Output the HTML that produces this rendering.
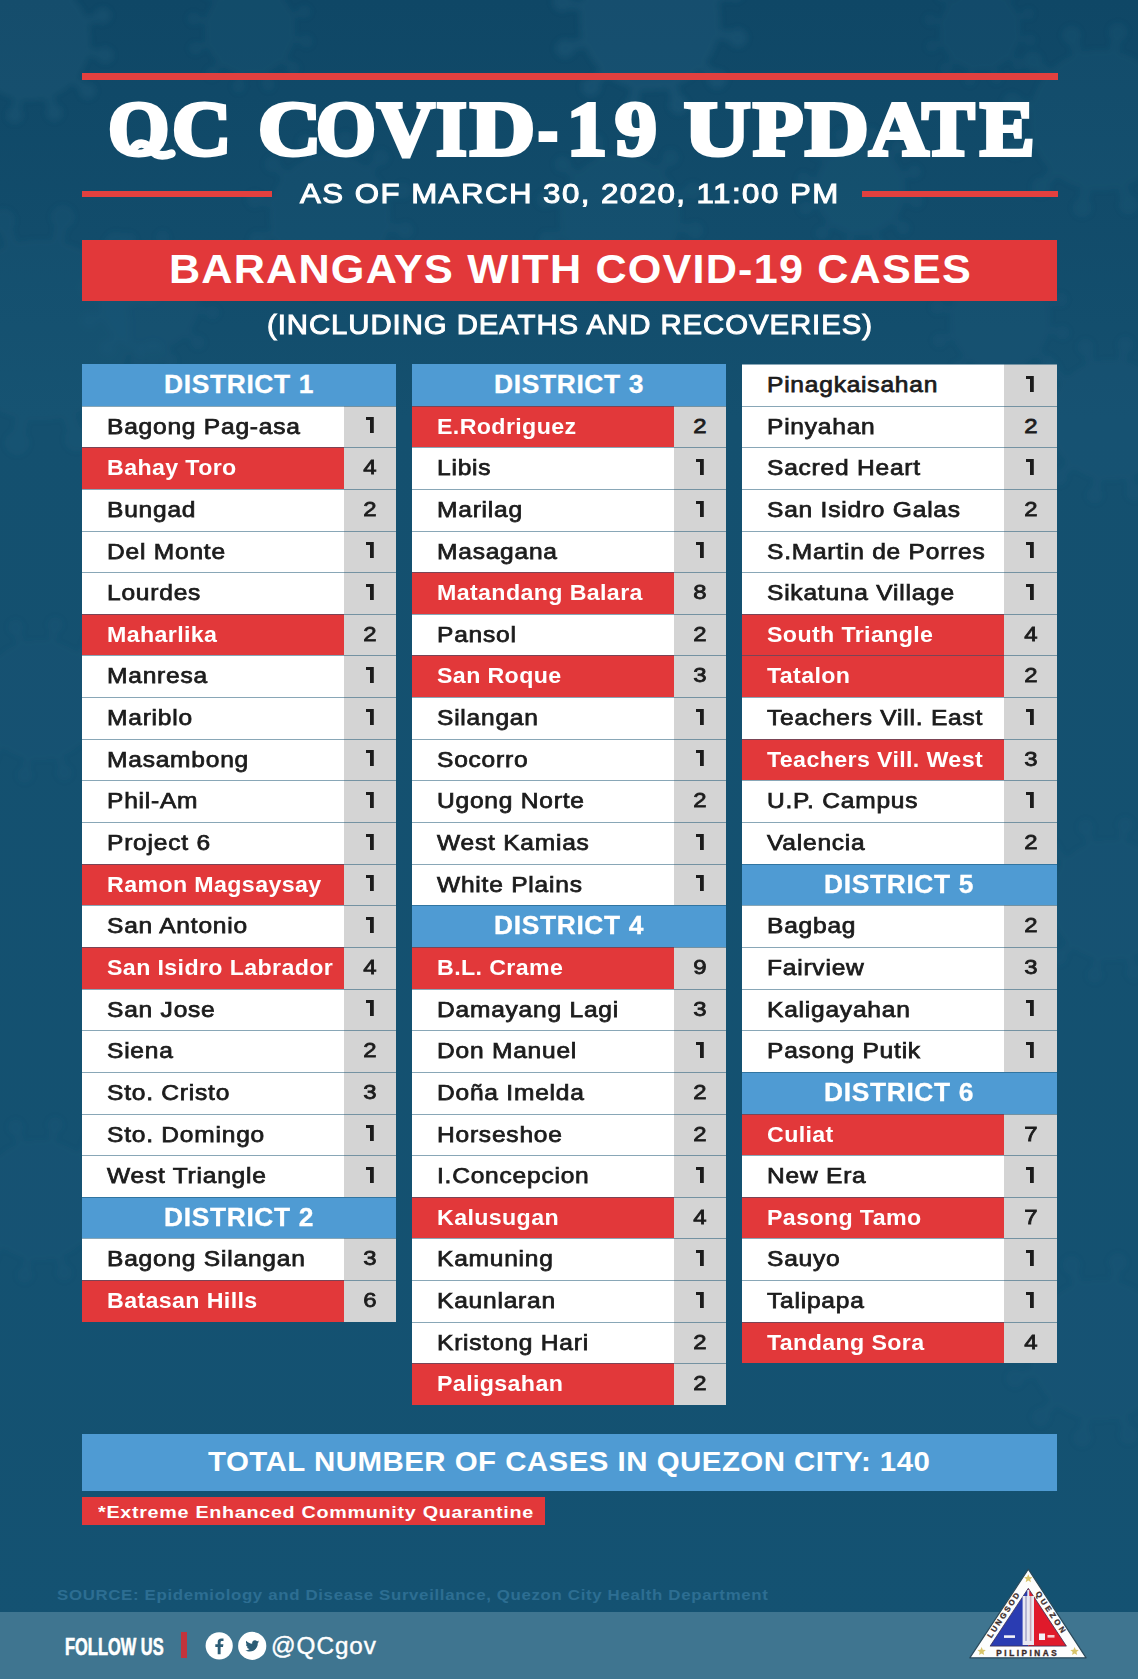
<!DOCTYPE html>
<html><head><meta charset="utf-8"><title>QC COVID-19 Update</title>
<style>
*{box-sizing:border-box;margin:0;padding:0}
html,body{width:1138px;height:1679px;overflow:hidden}
body{background:#14506f;font-family:"Liberation Sans",sans-serif;position:relative;color:#fff}
.abs{position:absolute}
.bgtex{position:absolute;left:0;top:0;width:1138px;height:1679px}
.rl{position:absolute;background:#e2403f;height:7px}
.tl b{position:absolute;top:84px;font-family:"Liberation Serif",serif;font-weight:700;font-size:78px;line-height:90px;white-space:nowrap;color:#fff;transform-origin:0 50%;-webkit-text-stroke:4px #fff;paint-order:stroke fill}
.asof{position:absolute;left:299.5px;top:177.5px;font-size:27.8px;line-height:32px;white-space:nowrap;transform-origin:0 50%;transform:scaleX(1.1235);letter-spacing:1.3px;-webkit-text-stroke:1px #fff}
.banner{position:absolute;left:82px;top:239.7px;width:975px;height:61px;background:#e2383a}
.btxt{position:absolute;left:169.4px;top:244px;font-size:40.5px;line-height:50px;font-weight:700;white-space:nowrap;transform-origin:0 50%;transform:scaleX(1.0667);letter-spacing:1.1px}
.incl{position:absolute;left:266.7px;top:307.5px;font-size:28.2px;line-height:32px;white-space:nowrap;transform-origin:0 50%;transform:scaleX(1.041);letter-spacing:0.9px;-webkit-text-stroke:1px #fff}
.col{position:absolute;top:0}
.row{position:absolute;left:0;height:41.64px;width:100%}
.row .in{position:absolute;left:0;top:0;right:0;bottom:0;background:#fff}
.row i,.hd i{position:absolute;left:0;right:0;top:0;height:1px;background:rgba(20,80,111,0.5)}
.row.r .in{background:#e2383a}
.row .v{position:absolute;top:0;bottom:0;right:0;background:#d4d4d4;color:#1c1c1c;text-align:center;font-size:21px;line-height:39.6px}
.row .v span{display:inline-block;transform:scaleX(1.14);-webkit-text-stroke:0.8px #1c1c1c}
.row .v svg{position:absolute;left:50%;top:50%;margin:-9.2px 0 0 -4.3px}
.row .n{position:absolute;left:25px;top:0;font-size:22px;line-height:42px;color:#1c1c1c;white-space:nowrap;transform-origin:0 50%;transform:scaleX(1.115);letter-spacing:0.7px;-webkit-text-stroke:0.75px #1c1c1c}
.row.r .n{color:#fff;font-weight:700;transform:scaleX(1.055);letter-spacing:0.35px;-webkit-text-stroke:0}
.hd{position:absolute;left:0;height:41.64px;width:100%;background:#4f9bd3;text-align:center}
.hd span{display:inline-block;font-size:25px;font-weight:700;line-height:40px;white-space:nowrap;transform:scaleX(1.055);letter-spacing:0.6px;-webkit-text-stroke:0.3px #fff}
.total{position:absolute;left:82px;top:1433.5px;width:975px;height:57.5px;background:#4f9bd3}
.ttxt{position:absolute;left:208px;top:1445.3px;font-size:28px;line-height:34px;font-weight:700;white-space:nowrap;transform-origin:0 50%;transform:scaleX(1.0517);letter-spacing:0.45px}
.note{position:absolute;left:81.5px;top:1497px;width:463.5px;height:28px;background:#e2383a}
.ntxt{position:absolute;left:98px;top:1500.3px;font-size:17.4px;line-height:24px;font-weight:700;white-space:nowrap;transform-origin:0 50%;transform:scaleX(1.135);letter-spacing:0.62px}
.src{position:absolute;left:57px;top:1585px;font-size:15.5px;line-height:20px;color:#2d6e92;white-space:nowrap;transform-origin:0 50%;transform:scaleX(1.087);letter-spacing:0.6px;font-weight:700}
.foot{position:absolute;left:0;top:1612px;width:1138px;height:67px;background:#3f7590}
.fol{position:absolute;left:64.5px;top:1633.5px;font-size:23px;line-height:26px;font-weight:700;white-space:nowrap;transform-origin:0 50%;transform:scaleX(0.715);-webkit-text-stroke:0.6px #fff}
.fbar{position:absolute;left:181px;top:1632px;width:5.5px;height:26px;background:#c2343c}
.qc{position:absolute;left:271.2px;top:1633px;font-size:23px;line-height:26px;white-space:nowrap;transform-origin:0 50%;transform:scaleX(1.055);letter-spacing:0.9px;-webkit-text-stroke:0.4px #fff}
</style></head>
<body>
<svg class="bgtex" width="1138" height="1679" viewBox="0 0 1138 1679"><defs><filter id="bl"><feGaussianBlur stdDeviation="3"/></filter><linearGradient id="gv" x1="0" y1="0" x2="0" y2="1"><stop offset="0" stop-color="#0f4766"/><stop offset="0.25" stop-color="#14506f"/><stop offset="1" stop-color="#145272"/></linearGradient></defs><rect width="1138" height="1679" fill="url(#gv)"/><g filter="url(#bl)"><g opacity="0.1" fill="#4c87a6" stroke="#4c87a6"><circle cx="30" cy="40" r="60"/><line x1="88.8" y1="51.9" x2="105.3" y2="55.3" stroke-width="8.4"/><circle cx="105.3" cy="55.3" r="7.8"/><line x1="75.0" y1="79.7" x2="87.6" y2="90.8" stroke-width="8.4"/><circle cx="87.6" cy="90.8" r="7.8"/><line x1="49.1" y1="96.9" x2="54.4" y2="112.8" stroke-width="8.4"/><circle cx="54.4" cy="112.8" r="7.8"/><line x1="18.1" y1="98.8" x2="14.7" y2="115.3" stroke-width="8.4"/><circle cx="14.7" cy="115.3" r="7.8"/><line x1="-9.7" y1="85.0" x2="-20.8" y2="97.6" stroke-width="8.4"/><circle cx="-20.8" cy="97.6" r="7.8"/><line x1="-26.9" y1="59.1" x2="-42.8" y2="64.4" stroke-width="8.4"/><circle cx="-42.8" cy="64.4" r="7.8"/><line x1="-28.8" y1="28.1" x2="-45.3" y2="24.7" stroke-width="8.4"/><circle cx="-45.3" cy="24.7" r="7.8"/><line x1="-15.0" y1="0.3" x2="-27.6" y2="-10.8" stroke-width="8.4"/><circle cx="-27.6" cy="-10.8" r="7.8"/><line x1="10.9" y1="-16.9" x2="5.6" y2="-32.8" stroke-width="8.4"/><circle cx="5.6" cy="-32.8" r="7.8"/><line x1="41.9" y1="-18.8" x2="45.3" y2="-35.3" stroke-width="8.4"/><circle cx="45.3" cy="-35.3" r="7.8"/><line x1="69.7" y1="-5.0" x2="80.8" y2="-17.6" stroke-width="8.4"/><circle cx="80.8" cy="-17.6" r="7.8"/><line x1="86.9" y1="20.9" x2="102.8" y2="15.6" stroke-width="8.4"/><circle cx="102.8" cy="15.6" r="7.8"/></g><g opacity="0.13" fill="#4c87a6" stroke="#4c87a6"><circle cx="650" cy="20" r="70"/><line x1="718.6" y1="33.9" x2="737.8" y2="37.8" stroke-width="9.8"/><circle cx="737.8" cy="37.8" r="9.1"/><line x1="702.5" y1="66.3" x2="717.1" y2="79.3" stroke-width="9.8"/><circle cx="717.1" cy="79.3" r="9.1"/><line x1="672.3" y1="86.4" x2="678.5" y2="104.9" stroke-width="9.8"/><circle cx="678.5" cy="104.9" r="9.1"/><line x1="636.1" y1="88.6" x2="632.2" y2="107.8" stroke-width="9.8"/><circle cx="632.2" cy="107.8" r="9.1"/><line x1="603.7" y1="72.5" x2="590.7" y2="87.1" stroke-width="9.8"/><circle cx="590.7" cy="87.1" r="9.1"/><line x1="583.6" y1="42.3" x2="565.1" y2="48.5" stroke-width="9.8"/><circle cx="565.1" cy="48.5" r="9.1"/><line x1="581.4" y1="6.1" x2="562.2" y2="2.2" stroke-width="9.8"/><circle cx="562.2" cy="2.2" r="9.1"/><line x1="597.5" y1="-26.3" x2="582.9" y2="-39.3" stroke-width="9.8"/><circle cx="582.9" cy="-39.3" r="9.1"/><line x1="627.7" y1="-46.4" x2="621.5" y2="-64.9" stroke-width="9.8"/><circle cx="621.5" cy="-64.9" r="9.1"/><line x1="663.9" y1="-48.6" x2="667.8" y2="-67.8" stroke-width="9.8"/><circle cx="667.8" cy="-67.8" r="9.1"/><line x1="696.3" y1="-32.5" x2="709.3" y2="-47.1" stroke-width="9.8"/><circle cx="709.3" cy="-47.1" r="9.1"/><line x1="716.4" y1="-2.3" x2="734.9" y2="-8.5" stroke-width="9.8"/><circle cx="734.9" cy="-8.5" r="9.1"/></g><g opacity="0.07" fill="#4c87a6" stroke="#4c87a6"><circle cx="250" cy="30" r="45"/><line x1="294.1" y1="38.9" x2="306.5" y2="41.4" stroke-width="6.3"/><circle cx="306.5" cy="41.4" r="5.9"/><line x1="283.7" y1="59.8" x2="293.2" y2="68.1" stroke-width="6.3"/><circle cx="293.2" cy="68.1" r="5.9"/><line x1="264.3" y1="72.7" x2="268.3" y2="84.6" stroke-width="6.3"/><circle cx="268.3" cy="84.6" r="5.9"/><line x1="241.1" y1="74.1" x2="238.6" y2="86.5" stroke-width="6.3"/><circle cx="238.6" cy="86.5" r="5.9"/><line x1="220.2" y1="63.7" x2="211.9" y2="73.2" stroke-width="6.3"/><circle cx="211.9" cy="73.2" r="5.9"/><line x1="207.3" y1="44.3" x2="195.4" y2="48.3" stroke-width="6.3"/><circle cx="195.4" cy="48.3" r="5.9"/><line x1="205.9" y1="21.1" x2="193.5" y2="18.6" stroke-width="6.3"/><circle cx="193.5" cy="18.6" r="5.9"/><line x1="216.3" y1="0.2" x2="206.8" y2="-8.1" stroke-width="6.3"/><circle cx="206.8" cy="-8.1" r="5.9"/><line x1="235.7" y1="-12.7" x2="231.7" y2="-24.6" stroke-width="6.3"/><circle cx="231.7" cy="-24.6" r="5.9"/><line x1="258.9" y1="-14.1" x2="261.4" y2="-26.5" stroke-width="6.3"/><circle cx="261.4" cy="-26.5" r="5.9"/><line x1="279.8" y1="-3.7" x2="288.1" y2="-13.2" stroke-width="6.3"/><circle cx="288.1" cy="-13.2" r="5.9"/><line x1="292.7" y1="15.7" x2="304.6" y2="11.7" stroke-width="6.3"/><circle cx="304.6" cy="11.7" r="5.9"/></g><g opacity="0.07" fill="#4c87a6" stroke="#4c87a6"><circle cx="1100" cy="120" r="70"/><line x1="1168.6" y1="133.9" x2="1187.8" y2="137.8" stroke-width="9.8"/><circle cx="1187.8" cy="137.8" r="9.1"/><line x1="1152.5" y1="166.3" x2="1167.1" y2="179.3" stroke-width="9.8"/><circle cx="1167.1" cy="179.3" r="9.1"/><line x1="1122.3" y1="186.4" x2="1128.5" y2="204.9" stroke-width="9.8"/><circle cx="1128.5" cy="204.9" r="9.1"/><line x1="1086.1" y1="188.6" x2="1082.2" y2="207.8" stroke-width="9.8"/><circle cx="1082.2" cy="207.8" r="9.1"/><line x1="1053.7" y1="172.5" x2="1040.7" y2="187.1" stroke-width="9.8"/><circle cx="1040.7" cy="187.1" r="9.1"/><line x1="1033.6" y1="142.3" x2="1015.1" y2="148.5" stroke-width="9.8"/><circle cx="1015.1" cy="148.5" r="9.1"/><line x1="1031.4" y1="106.1" x2="1012.2" y2="102.2" stroke-width="9.8"/><circle cx="1012.2" cy="102.2" r="9.1"/><line x1="1047.5" y1="73.7" x2="1032.9" y2="60.7" stroke-width="9.8"/><circle cx="1032.9" cy="60.7" r="9.1"/><line x1="1077.7" y1="53.6" x2="1071.5" y2="35.1" stroke-width="9.8"/><circle cx="1071.5" cy="35.1" r="9.1"/><line x1="1113.9" y1="51.4" x2="1117.8" y2="32.2" stroke-width="9.8"/><circle cx="1117.8" cy="32.2" r="9.1"/><line x1="1146.3" y1="67.5" x2="1159.3" y2="52.9" stroke-width="9.8"/><circle cx="1159.3" cy="52.9" r="9.1"/><line x1="1166.4" y1="97.7" x2="1184.9" y2="91.5" stroke-width="9.8"/><circle cx="1184.9" cy="91.5" r="9.1"/></g><g opacity="0.06" fill="#4c87a6" stroke="#4c87a6"><circle cx="980" cy="30" r="40"/><line x1="1019.2" y1="37.9" x2="1030.2" y2="40.2" stroke-width="5.6"/><circle cx="1030.2" cy="40.2" r="5.2"/><line x1="1010.0" y1="56.5" x2="1018.4" y2="63.9" stroke-width="5.6"/><circle cx="1018.4" cy="63.9" r="5.2"/><line x1="992.7" y1="67.9" x2="996.3" y2="78.5" stroke-width="5.6"/><circle cx="996.3" cy="78.5" r="5.2"/><line x1="972.1" y1="69.2" x2="969.8" y2="80.2" stroke-width="5.6"/><circle cx="969.8" cy="80.2" r="5.2"/><line x1="953.5" y1="60.0" x2="946.1" y2="68.4" stroke-width="5.6"/><circle cx="946.1" cy="68.4" r="5.2"/><line x1="942.1" y1="42.7" x2="931.5" y2="46.3" stroke-width="5.6"/><circle cx="931.5" cy="46.3" r="5.2"/><line x1="940.8" y1="22.1" x2="929.8" y2="19.8" stroke-width="5.6"/><circle cx="929.8" cy="19.8" r="5.2"/><line x1="950.0" y1="3.5" x2="941.6" y2="-3.9" stroke-width="5.6"/><circle cx="941.6" cy="-3.9" r="5.2"/><line x1="967.3" y1="-7.9" x2="963.7" y2="-18.5" stroke-width="5.6"/><circle cx="963.7" cy="-18.5" r="5.2"/><line x1="987.9" y1="-9.2" x2="990.2" y2="-20.2" stroke-width="5.6"/><circle cx="990.2" cy="-20.2" r="5.2"/><line x1="1006.5" y1="0.0" x2="1013.9" y2="-8.4" stroke-width="5.6"/><circle cx="1013.9" cy="-8.4" r="5.2"/><line x1="1017.9" y1="17.3" x2="1028.5" y2="13.7" stroke-width="5.6"/><circle cx="1028.5" cy="13.7" r="5.2"/></g><g opacity="0.06" fill="#4c87a6" stroke="#4c87a6"><circle cx="40" cy="330" r="90"/><line x1="128.2" y1="347.9" x2="152.9" y2="352.9" stroke-width="12.6"/><circle cx="152.9" cy="352.9" r="11.7"/><line x1="107.4" y1="389.6" x2="126.3" y2="406.3" stroke-width="12.6"/><circle cx="126.3" cy="406.3" r="11.7"/><line x1="68.6" y1="415.3" x2="76.6" y2="439.2" stroke-width="12.6"/><circle cx="76.6" cy="439.2" r="11.7"/><line x1="22.1" y1="418.2" x2="17.1" y2="442.9" stroke-width="12.6"/><circle cx="17.1" cy="442.9" r="11.7"/><line x1="-19.6" y1="397.4" x2="-36.3" y2="416.3" stroke-width="12.6"/><circle cx="-36.3" cy="416.3" r="11.7"/><line x1="-45.3" y1="358.6" x2="-69.2" y2="366.6" stroke-width="12.6"/><circle cx="-69.2" cy="366.6" r="11.7"/><line x1="-48.2" y1="312.1" x2="-72.9" y2="307.1" stroke-width="12.6"/><circle cx="-72.9" cy="307.1" r="11.7"/><line x1="-27.4" y1="270.4" x2="-46.3" y2="253.7" stroke-width="12.6"/><circle cx="-46.3" cy="253.7" r="11.7"/><line x1="11.4" y1="244.7" x2="3.4" y2="220.8" stroke-width="12.6"/><circle cx="3.4" cy="220.8" r="11.7"/><line x1="57.9" y1="241.8" x2="62.9" y2="217.1" stroke-width="12.6"/><circle cx="62.9" cy="217.1" r="11.7"/><line x1="99.6" y1="262.6" x2="116.3" y2="243.7" stroke-width="12.6"/><circle cx="116.3" cy="243.7" r="11.7"/><line x1="125.3" y1="301.4" x2="149.2" y2="293.4" stroke-width="12.6"/><circle cx="149.2" cy="293.4" r="11.7"/></g><g opacity="0.05" fill="#4c87a6" stroke="#4c87a6"><circle cx="1110" cy="420" r="60"/><line x1="1168.8" y1="431.9" x2="1185.3" y2="435.3" stroke-width="8.4"/><circle cx="1185.3" cy="435.3" r="7.8"/><line x1="1155.0" y1="459.7" x2="1167.6" y2="470.8" stroke-width="8.4"/><circle cx="1167.6" cy="470.8" r="7.8"/><line x1="1129.1" y1="476.9" x2="1134.4" y2="492.8" stroke-width="8.4"/><circle cx="1134.4" cy="492.8" r="7.8"/><line x1="1098.1" y1="478.8" x2="1094.7" y2="495.3" stroke-width="8.4"/><circle cx="1094.7" cy="495.3" r="7.8"/><line x1="1070.3" y1="465.0" x2="1059.2" y2="477.6" stroke-width="8.4"/><circle cx="1059.2" cy="477.6" r="7.8"/><line x1="1053.1" y1="439.1" x2="1037.2" y2="444.4" stroke-width="8.4"/><circle cx="1037.2" cy="444.4" r="7.8"/><line x1="1051.2" y1="408.1" x2="1034.7" y2="404.7" stroke-width="8.4"/><circle cx="1034.7" cy="404.7" r="7.8"/><line x1="1065.0" y1="380.3" x2="1052.4" y2="369.2" stroke-width="8.4"/><circle cx="1052.4" cy="369.2" r="7.8"/><line x1="1090.9" y1="363.1" x2="1085.6" y2="347.2" stroke-width="8.4"/><circle cx="1085.6" cy="347.2" r="7.8"/><line x1="1121.9" y1="361.2" x2="1125.3" y2="344.7" stroke-width="8.4"/><circle cx="1125.3" cy="344.7" r="7.8"/><line x1="1149.7" y1="375.0" x2="1160.8" y2="362.4" stroke-width="8.4"/><circle cx="1160.8" cy="362.4" r="7.8"/><line x1="1166.9" y1="400.9" x2="1182.8" y2="395.6" stroke-width="8.4"/><circle cx="1182.8" cy="395.6" r="7.8"/></g><g opacity="0.07" fill="#4c87a6" stroke="#4c87a6"><circle cx="620" cy="215" r="60"/><line x1="678.8" y1="226.9" x2="695.3" y2="230.3" stroke-width="8.4"/><circle cx="695.3" cy="230.3" r="7.8"/><line x1="665.0" y1="254.7" x2="677.6" y2="265.8" stroke-width="8.4"/><circle cx="677.6" cy="265.8" r="7.8"/><line x1="639.1" y1="271.9" x2="644.4" y2="287.8" stroke-width="8.4"/><circle cx="644.4" cy="287.8" r="7.8"/><line x1="608.1" y1="273.8" x2="604.7" y2="290.3" stroke-width="8.4"/><circle cx="604.7" cy="290.3" r="7.8"/><line x1="580.3" y1="260.0" x2="569.2" y2="272.6" stroke-width="8.4"/><circle cx="569.2" cy="272.6" r="7.8"/><line x1="563.1" y1="234.1" x2="547.2" y2="239.4" stroke-width="8.4"/><circle cx="547.2" cy="239.4" r="7.8"/><line x1="561.2" y1="203.1" x2="544.7" y2="199.7" stroke-width="8.4"/><circle cx="544.7" cy="199.7" r="7.8"/><line x1="575.0" y1="175.3" x2="562.4" y2="164.2" stroke-width="8.4"/><circle cx="562.4" cy="164.2" r="7.8"/><line x1="600.9" y1="158.1" x2="595.6" y2="142.2" stroke-width="8.4"/><circle cx="595.6" cy="142.2" r="7.8"/><line x1="631.9" y1="156.2" x2="635.3" y2="139.7" stroke-width="8.4"/><circle cx="635.3" cy="139.7" r="7.8"/><line x1="659.7" y1="170.0" x2="670.8" y2="157.4" stroke-width="8.4"/><circle cx="670.8" cy="157.4" r="7.8"/><line x1="676.9" y1="195.9" x2="692.8" y2="190.6" stroke-width="8.4"/><circle cx="692.8" cy="190.6" r="7.8"/></g><g opacity="0.08" fill="#4c87a6" stroke="#4c87a6"><circle cx="860" cy="190" r="45"/><line x1="904.1" y1="198.9" x2="916.5" y2="201.4" stroke-width="6.3"/><circle cx="916.5" cy="201.4" r="5.9"/><line x1="893.7" y1="219.8" x2="903.2" y2="228.1" stroke-width="6.3"/><circle cx="903.2" cy="228.1" r="5.9"/><line x1="874.3" y1="232.7" x2="878.3" y2="244.6" stroke-width="6.3"/><circle cx="878.3" cy="244.6" r="5.9"/><line x1="851.1" y1="234.1" x2="848.6" y2="246.5" stroke-width="6.3"/><circle cx="848.6" cy="246.5" r="5.9"/><line x1="830.2" y1="223.7" x2="821.9" y2="233.2" stroke-width="6.3"/><circle cx="821.9" cy="233.2" r="5.9"/><line x1="817.3" y1="204.3" x2="805.4" y2="208.3" stroke-width="6.3"/><circle cx="805.4" cy="208.3" r="5.9"/><line x1="815.9" y1="181.1" x2="803.5" y2="178.6" stroke-width="6.3"/><circle cx="803.5" cy="178.6" r="5.9"/><line x1="826.3" y1="160.2" x2="816.8" y2="151.9" stroke-width="6.3"/><circle cx="816.8" cy="151.9" r="5.9"/><line x1="845.7" y1="147.3" x2="841.7" y2="135.4" stroke-width="6.3"/><circle cx="841.7" cy="135.4" r="5.9"/><line x1="868.9" y1="145.9" x2="871.4" y2="133.5" stroke-width="6.3"/><circle cx="871.4" cy="133.5" r="5.9"/><line x1="889.8" y1="156.3" x2="898.1" y2="146.8" stroke-width="6.3"/><circle cx="898.1" cy="146.8" r="5.9"/><line x1="902.7" y1="175.7" x2="914.6" y2="171.7" stroke-width="6.3"/><circle cx="914.6" cy="171.7" r="5.9"/></g><g opacity="0.06" fill="#4c87a6" stroke="#4c87a6"><circle cx="330" cy="215" r="60"/><line x1="388.8" y1="226.9" x2="405.3" y2="230.3" stroke-width="8.4"/><circle cx="405.3" cy="230.3" r="7.8"/><line x1="375.0" y1="254.7" x2="387.6" y2="265.8" stroke-width="8.4"/><circle cx="387.6" cy="265.8" r="7.8"/><line x1="349.1" y1="271.9" x2="354.4" y2="287.8" stroke-width="8.4"/><circle cx="354.4" cy="287.8" r="7.8"/><line x1="318.1" y1="273.8" x2="314.7" y2="290.3" stroke-width="8.4"/><circle cx="314.7" cy="290.3" r="7.8"/><line x1="290.3" y1="260.0" x2="279.2" y2="272.6" stroke-width="8.4"/><circle cx="279.2" cy="272.6" r="7.8"/><line x1="273.1" y1="234.1" x2="257.2" y2="239.4" stroke-width="8.4"/><circle cx="257.2" cy="239.4" r="7.8"/><line x1="271.2" y1="203.1" x2="254.7" y2="199.7" stroke-width="8.4"/><circle cx="254.7" cy="199.7" r="7.8"/><line x1="285.0" y1="175.3" x2="272.4" y2="164.2" stroke-width="8.4"/><circle cx="272.4" cy="164.2" r="7.8"/><line x1="310.9" y1="158.1" x2="305.6" y2="142.2" stroke-width="8.4"/><circle cx="305.6" cy="142.2" r="7.8"/><line x1="341.9" y1="156.2" x2="345.3" y2="139.7" stroke-width="8.4"/><circle cx="345.3" cy="139.7" r="7.8"/><line x1="369.7" y1="170.0" x2="380.8" y2="157.4" stroke-width="8.4"/><circle cx="380.8" cy="157.4" r="7.8"/><line x1="386.9" y1="195.9" x2="402.8" y2="190.6" stroke-width="8.4"/><circle cx="402.8" cy="190.6" r="7.8"/></g><g opacity="0.05" fill="#4c87a6" stroke="#4c87a6"><circle cx="150" cy="300" r="50"/><line x1="199.0" y1="309.9" x2="212.7" y2="312.7" stroke-width="7.0"/><circle cx="212.7" cy="312.7" r="6.5"/><line x1="187.5" y1="333.1" x2="198.0" y2="342.4" stroke-width="7.0"/><circle cx="198.0" cy="342.4" r="6.5"/><line x1="165.9" y1="347.4" x2="170.4" y2="360.7" stroke-width="7.0"/><circle cx="170.4" cy="360.7" r="6.5"/><line x1="140.1" y1="349.0" x2="137.3" y2="362.7" stroke-width="7.0"/><circle cx="137.3" cy="362.7" r="6.5"/><line x1="116.9" y1="337.5" x2="107.6" y2="348.0" stroke-width="7.0"/><circle cx="107.6" cy="348.0" r="6.5"/><line x1="102.6" y1="315.9" x2="89.3" y2="320.4" stroke-width="7.0"/><circle cx="89.3" cy="320.4" r="6.5"/><line x1="101.0" y1="290.1" x2="87.3" y2="287.3" stroke-width="7.0"/><circle cx="87.3" cy="287.3" r="6.5"/><line x1="112.5" y1="266.9" x2="102.0" y2="257.6" stroke-width="7.0"/><circle cx="102.0" cy="257.6" r="6.5"/><line x1="134.1" y1="252.6" x2="129.6" y2="239.3" stroke-width="7.0"/><circle cx="129.6" cy="239.3" r="6.5"/><line x1="159.9" y1="251.0" x2="162.7" y2="237.3" stroke-width="7.0"/><circle cx="162.7" cy="237.3" r="6.5"/><line x1="183.1" y1="262.5" x2="192.4" y2="252.0" stroke-width="7.0"/><circle cx="192.4" cy="252.0" r="6.5"/><line x1="197.4" y1="284.1" x2="210.7" y2="279.6" stroke-width="7.0"/><circle cx="210.7" cy="279.6" r="6.5"/></g><g opacity="0.05" fill="#4c87a6" stroke="#4c87a6"><circle cx="1000" cy="320" r="50"/><line x1="1049.0" y1="329.9" x2="1062.7" y2="332.7" stroke-width="7.0"/><circle cx="1062.7" cy="332.7" r="6.5"/><line x1="1037.5" y1="353.1" x2="1048.0" y2="362.4" stroke-width="7.0"/><circle cx="1048.0" cy="362.4" r="6.5"/><line x1="1015.9" y1="367.4" x2="1020.4" y2="380.7" stroke-width="7.0"/><circle cx="1020.4" cy="380.7" r="6.5"/><line x1="990.1" y1="369.0" x2="987.3" y2="382.7" stroke-width="7.0"/><circle cx="987.3" cy="382.7" r="6.5"/><line x1="966.9" y1="357.5" x2="957.6" y2="368.0" stroke-width="7.0"/><circle cx="957.6" cy="368.0" r="6.5"/><line x1="952.6" y1="335.9" x2="939.3" y2="340.4" stroke-width="7.0"/><circle cx="939.3" cy="340.4" r="6.5"/><line x1="951.0" y1="310.1" x2="937.3" y2="307.3" stroke-width="7.0"/><circle cx="937.3" cy="307.3" r="6.5"/><line x1="962.5" y1="286.9" x2="952.0" y2="277.6" stroke-width="7.0"/><circle cx="952.0" cy="277.6" r="6.5"/><line x1="984.1" y1="272.6" x2="979.6" y2="259.3" stroke-width="7.0"/><circle cx="979.6" cy="259.3" r="6.5"/><line x1="1009.9" y1="271.0" x2="1012.7" y2="257.3" stroke-width="7.0"/><circle cx="1012.7" cy="257.3" r="6.5"/><line x1="1033.1" y1="282.5" x2="1042.4" y2="272.0" stroke-width="7.0"/><circle cx="1042.4" cy="272.0" r="6.5"/><line x1="1047.4" y1="304.1" x2="1060.7" y2="299.6" stroke-width="7.0"/><circle cx="1060.7" cy="299.6" r="6.5"/></g><g opacity="0.04" fill="#4c87a6" stroke="#4c87a6"><circle cx="40" cy="700" r="60"/><line x1="98.8" y1="711.9" x2="115.3" y2="715.3" stroke-width="8.4"/><circle cx="115.3" cy="715.3" r="7.8"/><line x1="85.0" y1="739.7" x2="97.6" y2="750.8" stroke-width="8.4"/><circle cx="97.6" cy="750.8" r="7.8"/><line x1="59.1" y1="756.9" x2="64.4" y2="772.8" stroke-width="8.4"/><circle cx="64.4" cy="772.8" r="7.8"/><line x1="28.1" y1="758.8" x2="24.7" y2="775.3" stroke-width="8.4"/><circle cx="24.7" cy="775.3" r="7.8"/><line x1="0.3" y1="745.0" x2="-10.8" y2="757.6" stroke-width="8.4"/><circle cx="-10.8" cy="757.6" r="7.8"/><line x1="-16.9" y1="719.1" x2="-32.8" y2="724.4" stroke-width="8.4"/><circle cx="-32.8" cy="724.4" r="7.8"/><line x1="-18.8" y1="688.1" x2="-35.3" y2="684.7" stroke-width="8.4"/><circle cx="-35.3" cy="684.7" r="7.8"/><line x1="-5.0" y1="660.3" x2="-17.6" y2="649.2" stroke-width="8.4"/><circle cx="-17.6" cy="649.2" r="7.8"/><line x1="20.9" y1="643.1" x2="15.6" y2="627.2" stroke-width="8.4"/><circle cx="15.6" cy="627.2" r="7.8"/><line x1="51.9" y1="641.2" x2="55.3" y2="624.7" stroke-width="8.4"/><circle cx="55.3" cy="624.7" r="7.8"/><line x1="79.7" y1="655.0" x2="90.8" y2="642.4" stroke-width="8.4"/><circle cx="90.8" cy="642.4" r="7.8"/><line x1="96.9" y1="680.9" x2="112.8" y2="675.6" stroke-width="8.4"/><circle cx="112.8" cy="675.6" r="7.8"/></g><g opacity="0.04" fill="#4c87a6" stroke="#4c87a6"><circle cx="1110" cy="900" r="60"/><line x1="1168.8" y1="911.9" x2="1185.3" y2="915.3" stroke-width="8.4"/><circle cx="1185.3" cy="915.3" r="7.8"/><line x1="1155.0" y1="939.7" x2="1167.6" y2="950.8" stroke-width="8.4"/><circle cx="1167.6" cy="950.8" r="7.8"/><line x1="1129.1" y1="956.9" x2="1134.4" y2="972.8" stroke-width="8.4"/><circle cx="1134.4" cy="972.8" r="7.8"/><line x1="1098.1" y1="958.8" x2="1094.7" y2="975.3" stroke-width="8.4"/><circle cx="1094.7" cy="975.3" r="7.8"/><line x1="1070.3" y1="945.0" x2="1059.2" y2="957.6" stroke-width="8.4"/><circle cx="1059.2" cy="957.6" r="7.8"/><line x1="1053.1" y1="919.1" x2="1037.2" y2="924.4" stroke-width="8.4"/><circle cx="1037.2" cy="924.4" r="7.8"/><line x1="1051.2" y1="888.1" x2="1034.7" y2="884.7" stroke-width="8.4"/><circle cx="1034.7" cy="884.7" r="7.8"/><line x1="1065.0" y1="860.3" x2="1052.4" y2="849.2" stroke-width="8.4"/><circle cx="1052.4" cy="849.2" r="7.8"/><line x1="1090.9" y1="843.1" x2="1085.6" y2="827.2" stroke-width="8.4"/><circle cx="1085.6" cy="827.2" r="7.8"/><line x1="1121.9" y1="841.2" x2="1125.3" y2="824.7" stroke-width="8.4"/><circle cx="1125.3" cy="824.7" r="7.8"/><line x1="1149.7" y1="855.0" x2="1160.8" y2="842.4" stroke-width="8.4"/><circle cx="1160.8" cy="842.4" r="7.8"/><line x1="1166.9" y1="880.9" x2="1182.8" y2="875.6" stroke-width="8.4"/><circle cx="1182.8" cy="875.6" r="7.8"/></g><g opacity="0.04" fill="#4c87a6" stroke="#4c87a6"><circle cx="40" cy="1200" r="60"/><line x1="98.8" y1="1211.9" x2="115.3" y2="1215.3" stroke-width="8.4"/><circle cx="115.3" cy="1215.3" r="7.8"/><line x1="85.0" y1="1239.7" x2="97.6" y2="1250.8" stroke-width="8.4"/><circle cx="97.6" cy="1250.8" r="7.8"/><line x1="59.1" y1="1256.9" x2="64.4" y2="1272.8" stroke-width="8.4"/><circle cx="64.4" cy="1272.8" r="7.8"/><line x1="28.1" y1="1258.8" x2="24.7" y2="1275.3" stroke-width="8.4"/><circle cx="24.7" cy="1275.3" r="7.8"/><line x1="0.3" y1="1245.0" x2="-10.8" y2="1257.6" stroke-width="8.4"/><circle cx="-10.8" cy="1257.6" r="7.8"/><line x1="-16.9" y1="1219.1" x2="-32.8" y2="1224.4" stroke-width="8.4"/><circle cx="-32.8" cy="1224.4" r="7.8"/><line x1="-18.8" y1="1188.1" x2="-35.3" y2="1184.7" stroke-width="8.4"/><circle cx="-35.3" cy="1184.7" r="7.8"/><line x1="-5.0" y1="1160.3" x2="-17.6" y2="1149.2" stroke-width="8.4"/><circle cx="-17.6" cy="1149.2" r="7.8"/><line x1="20.9" y1="1143.1" x2="15.6" y2="1127.2" stroke-width="8.4"/><circle cx="15.6" cy="1127.2" r="7.8"/><line x1="51.9" y1="1141.2" x2="55.3" y2="1124.7" stroke-width="8.4"/><circle cx="55.3" cy="1124.7" r="7.8"/><line x1="79.7" y1="1155.0" x2="90.8" y2="1142.4" stroke-width="8.4"/><circle cx="90.8" cy="1142.4" r="7.8"/><line x1="96.9" y1="1180.9" x2="112.8" y2="1175.6" stroke-width="8.4"/><circle cx="112.8" cy="1175.6" r="7.8"/></g><g opacity="0.04" fill="#4c87a6" stroke="#4c87a6"><circle cx="1100" cy="1350" r="70"/><line x1="1168.6" y1="1363.9" x2="1187.8" y2="1367.8" stroke-width="9.8"/><circle cx="1187.8" cy="1367.8" r="9.1"/><line x1="1152.5" y1="1396.3" x2="1167.1" y2="1409.3" stroke-width="9.8"/><circle cx="1167.1" cy="1409.3" r="9.1"/><line x1="1122.3" y1="1416.4" x2="1128.5" y2="1434.9" stroke-width="9.8"/><circle cx="1128.5" cy="1434.9" r="9.1"/><line x1="1086.1" y1="1418.6" x2="1082.2" y2="1437.8" stroke-width="9.8"/><circle cx="1082.2" cy="1437.8" r="9.1"/><line x1="1053.7" y1="1402.5" x2="1040.7" y2="1417.1" stroke-width="9.8"/><circle cx="1040.7" cy="1417.1" r="9.1"/><line x1="1033.6" y1="1372.3" x2="1015.1" y2="1378.5" stroke-width="9.8"/><circle cx="1015.1" cy="1378.5" r="9.1"/><line x1="1031.4" y1="1336.1" x2="1012.2" y2="1332.2" stroke-width="9.8"/><circle cx="1012.2" cy="1332.2" r="9.1"/><line x1="1047.5" y1="1303.7" x2="1032.9" y2="1290.7" stroke-width="9.8"/><circle cx="1032.9" cy="1290.7" r="9.1"/><line x1="1077.7" y1="1283.6" x2="1071.5" y2="1265.1" stroke-width="9.8"/><circle cx="1071.5" cy="1265.1" r="9.1"/><line x1="1113.9" y1="1281.4" x2="1117.8" y2="1262.2" stroke-width="9.8"/><circle cx="1117.8" cy="1262.2" r="9.1"/><line x1="1146.3" y1="1297.5" x2="1159.3" y2="1282.9" stroke-width="9.8"/><circle cx="1159.3" cy="1282.9" r="9.1"/><line x1="1166.4" y1="1327.7" x2="1184.9" y2="1321.5" stroke-width="9.8"/><circle cx="1184.9" cy="1321.5" r="9.1"/></g></g></svg>
<div class="rl" style="left:82.3px;top:72.5px;width:975.5px"></div>
<div class="tl"><b style="left:107.80px;transform:scaleX(1.0120)">O</b><b style="left:172.40px;transform:scaleX(1.0520)">C</b><b style="left:258.05px;transform:scaleX(1.1240)">C</b><b style="left:315.92px;transform:scaleX(0.9877)">O</b><b style="left:376.63px;transform:scaleX(1.0254)">V</b><b style="left:436.48px;transform:scaleX(1.0172)">I</b><b style="left:469.56px;transform:scaleX(1.1554)">D</b><b style="left:537.94px;transform:scaleX(0.7625)">-</b><b style="left:566.90px;transform:scaleX(1.0242)">1</b><b style="left:614.70px;transform:scaleX(1.0711)">9</b><b style="left:684.00px;transform:scaleX(1.1804)">U</b><b style="left:752.65px;transform:scaleX(1.0542)">P</b><b style="left:804.73px;transform:scaleX(1.1304)">D</b><b style="left:868.56px;transform:scaleX(1.0593)">A</b><b style="left:922.01px;transform:scaleX(1.0111)">T</b><b style="left:979.75px;transform:scaleX(1.0490)">E</b></div>
<div class="rl" style="left:82.3px;top:190.5px;width:189.7px;height:6.4px"></div>
<svg class="abs" style="left:120px;top:130px" width="70" height="40" viewBox="120 130 70 40"><path d="M134 147.5 C139 141.5 146 142.5 151 149.5 C155 155 161 157.5 171.5 153.5" fill="none" stroke="#fff" stroke-width="8.5" stroke-linecap="round"/></svg>
<div class="rl" style="left:862.3px;top:190.5px;width:195.5px;height:6.4px"></div>
<div class="asof">AS OF MARCH 30, 2020, 11:00 PM</div>
<div class="banner"></div><div class="btxt">BARANGAYS WITH COVID-19 CASES</div>
<div class="incl">(INCLUDING DEATHS AND RECOVERIES)</div>
<div class="col" style="left:82px;width:314px">
<div class="hd" style="top:364px;height:42px"><span>DISTRICT 1</span></div>
<div class="row" style="top:406px;height:41px"><div class="in"></div><div class="v" style="width:52px"><svg width="8" height="16" viewBox="0 0 8 16"><path d="M0 0H7.8V16H4V3.1H0Z" fill="#1c1c1c"/></svg></div><div class="n">Bagong Pag-asa</div><i></i></div>
<div class="row r" style="top:447px;height:42px"><div class="in"></div><div class="v" style="width:52px"><span>4</span></div><div class="n">Bahay Toro</div><i></i></div>
<div class="row" style="top:489px;height:42px"><div class="in"></div><div class="v" style="width:52px"><span>2</span></div><div class="n">Bungad</div><i></i></div>
<div class="row" style="top:531px;height:41px"><div class="in"></div><div class="v" style="width:52px"><svg width="8" height="16" viewBox="0 0 8 16"><path d="M0 0H7.8V16H4V3.1H0Z" fill="#1c1c1c"/></svg></div><div class="n">Del Monte</div><i></i></div>
<div class="row" style="top:572px;height:42px"><div class="in"></div><div class="v" style="width:52px"><svg width="8" height="16" viewBox="0 0 8 16"><path d="M0 0H7.8V16H4V3.1H0Z" fill="#1c1c1c"/></svg></div><div class="n">Lourdes</div><i></i></div>
<div class="row r" style="top:614px;height:41px"><div class="in"></div><div class="v" style="width:52px"><span>2</span></div><div class="n">Maharlika</div><i></i></div>
<div class="row" style="top:655px;height:42px"><div class="in"></div><div class="v" style="width:52px"><svg width="8" height="16" viewBox="0 0 8 16"><path d="M0 0H7.8V16H4V3.1H0Z" fill="#1c1c1c"/></svg></div><div class="n">Manresa</div><i></i></div>
<div class="row" style="top:697px;height:42px"><div class="in"></div><div class="v" style="width:52px"><svg width="8" height="16" viewBox="0 0 8 16"><path d="M0 0H7.8V16H4V3.1H0Z" fill="#1c1c1c"/></svg></div><div class="n">Mariblo</div><i></i></div>
<div class="row" style="top:739px;height:41px"><div class="in"></div><div class="v" style="width:52px"><svg width="8" height="16" viewBox="0 0 8 16"><path d="M0 0H7.8V16H4V3.1H0Z" fill="#1c1c1c"/></svg></div><div class="n">Masambong</div><i></i></div>
<div class="row" style="top:780px;height:42px"><div class="in"></div><div class="v" style="width:52px"><svg width="8" height="16" viewBox="0 0 8 16"><path d="M0 0H7.8V16H4V3.1H0Z" fill="#1c1c1c"/></svg></div><div class="n">Phil-Am</div><i></i></div>
<div class="row" style="top:822px;height:42px"><div class="in"></div><div class="v" style="width:52px"><svg width="8" height="16" viewBox="0 0 8 16"><path d="M0 0H7.8V16H4V3.1H0Z" fill="#1c1c1c"/></svg></div><div class="n">Project 6</div><i></i></div>
<div class="row r" style="top:864px;height:41px"><div class="in"></div><div class="v" style="width:52px"><svg width="8" height="16" viewBox="0 0 8 16"><path d="M0 0H7.8V16H4V3.1H0Z" fill="#1c1c1c"/></svg></div><div class="n">Ramon Magsaysay</div><i></i></div>
<div class="row" style="top:905px;height:42px"><div class="in"></div><div class="v" style="width:52px"><svg width="8" height="16" viewBox="0 0 8 16"><path d="M0 0H7.8V16H4V3.1H0Z" fill="#1c1c1c"/></svg></div><div class="n">San Antonio</div><i></i></div>
<div class="row r" style="top:947px;height:42px"><div class="in"></div><div class="v" style="width:52px"><span>4</span></div><div class="n">San Isidro Labrador</div><i></i></div>
<div class="row" style="top:989px;height:41px"><div class="in"></div><div class="v" style="width:52px"><svg width="8" height="16" viewBox="0 0 8 16"><path d="M0 0H7.8V16H4V3.1H0Z" fill="#1c1c1c"/></svg></div><div class="n">San Jose</div><i></i></div>
<div class="row" style="top:1030px;height:42px"><div class="in"></div><div class="v" style="width:52px"><span>2</span></div><div class="n">Siena</div><i></i></div>
<div class="row" style="top:1072px;height:42px"><div class="in"></div><div class="v" style="width:52px"><span>3</span></div><div class="n">Sto. Cristo</div><i></i></div>
<div class="row" style="top:1114px;height:41px"><div class="in"></div><div class="v" style="width:52px"><svg width="8" height="16" viewBox="0 0 8 16"><path d="M0 0H7.8V16H4V3.1H0Z" fill="#1c1c1c"/></svg></div><div class="n">Sto. Domingo</div><i></i></div>
<div class="row" style="top:1155px;height:42px"><div class="in"></div><div class="v" style="width:52px"><svg width="8" height="16" viewBox="0 0 8 16"><path d="M0 0H7.8V16H4V3.1H0Z" fill="#1c1c1c"/></svg></div><div class="n">West Triangle</div><i></i></div>
<div class="hd" style="top:1197px;height:41px"><span>DISTRICT 2</span><i></i></div>
<div class="row" style="top:1238px;height:42px"><div class="in"></div><div class="v" style="width:52px"><span>3</span></div><div class="n">Bagong Silangan</div><i></i></div>
<div class="row r" style="top:1280px;height:42px"><div class="in"></div><div class="v" style="width:52px"><span>6</span></div><div class="n">Batasan Hills</div><i></i></div>
</div>
<div class="col" style="left:412px;width:314px">
<div class="hd" style="top:364px;height:42px"><span>DISTRICT 3</span></div>
<div class="row r" style="top:406px;height:41px"><div class="in"></div><div class="v" style="width:52px"><span>2</span></div><div class="n">E.Rodriguez</div><i></i></div>
<div class="row" style="top:447px;height:42px"><div class="in"></div><div class="v" style="width:52px"><svg width="8" height="16" viewBox="0 0 8 16"><path d="M0 0H7.8V16H4V3.1H0Z" fill="#1c1c1c"/></svg></div><div class="n">Libis</div><i></i></div>
<div class="row" style="top:489px;height:42px"><div class="in"></div><div class="v" style="width:52px"><svg width="8" height="16" viewBox="0 0 8 16"><path d="M0 0H7.8V16H4V3.1H0Z" fill="#1c1c1c"/></svg></div><div class="n">Marilag</div><i></i></div>
<div class="row" style="top:531px;height:41px"><div class="in"></div><div class="v" style="width:52px"><svg width="8" height="16" viewBox="0 0 8 16"><path d="M0 0H7.8V16H4V3.1H0Z" fill="#1c1c1c"/></svg></div><div class="n">Masagana</div><i></i></div>
<div class="row r" style="top:572px;height:42px"><div class="in"></div><div class="v" style="width:52px"><span>8</span></div><div class="n">Matandang Balara</div><i></i></div>
<div class="row" style="top:614px;height:41px"><div class="in"></div><div class="v" style="width:52px"><span>2</span></div><div class="n">Pansol</div><i></i></div>
<div class="row r" style="top:655px;height:42px"><div class="in"></div><div class="v" style="width:52px"><span>3</span></div><div class="n">San Roque</div><i></i></div>
<div class="row" style="top:697px;height:42px"><div class="in"></div><div class="v" style="width:52px"><svg width="8" height="16" viewBox="0 0 8 16"><path d="M0 0H7.8V16H4V3.1H0Z" fill="#1c1c1c"/></svg></div><div class="n">Silangan</div><i></i></div>
<div class="row" style="top:739px;height:41px"><div class="in"></div><div class="v" style="width:52px"><svg width="8" height="16" viewBox="0 0 8 16"><path d="M0 0H7.8V16H4V3.1H0Z" fill="#1c1c1c"/></svg></div><div class="n">Socorro</div><i></i></div>
<div class="row" style="top:780px;height:42px"><div class="in"></div><div class="v" style="width:52px"><span>2</span></div><div class="n">Ugong Norte</div><i></i></div>
<div class="row" style="top:822px;height:42px"><div class="in"></div><div class="v" style="width:52px"><svg width="8" height="16" viewBox="0 0 8 16"><path d="M0 0H7.8V16H4V3.1H0Z" fill="#1c1c1c"/></svg></div><div class="n">West Kamias</div><i></i></div>
<div class="row" style="top:864px;height:41px"><div class="in"></div><div class="v" style="width:52px"><svg width="8" height="16" viewBox="0 0 8 16"><path d="M0 0H7.8V16H4V3.1H0Z" fill="#1c1c1c"/></svg></div><div class="n">White Plains</div><i></i></div>
<div class="hd" style="top:905px;height:42px"><span>DISTRICT 4</span><i></i></div>
<div class="row r" style="top:947px;height:42px"><div class="in"></div><div class="v" style="width:52px"><span>9</span></div><div class="n">B.L. Crame</div><i></i></div>
<div class="row" style="top:989px;height:41px"><div class="in"></div><div class="v" style="width:52px"><span>3</span></div><div class="n">Damayang Lagi</div><i></i></div>
<div class="row" style="top:1030px;height:42px"><div class="in"></div><div class="v" style="width:52px"><svg width="8" height="16" viewBox="0 0 8 16"><path d="M0 0H7.8V16H4V3.1H0Z" fill="#1c1c1c"/></svg></div><div class="n">Don Manuel</div><i></i></div>
<div class="row" style="top:1072px;height:42px"><div class="in"></div><div class="v" style="width:52px"><span>2</span></div><div class="n">Do&ntilde;a Imelda</div><i></i></div>
<div class="row" style="top:1114px;height:41px"><div class="in"></div><div class="v" style="width:52px"><span>2</span></div><div class="n">Horseshoe</div><i></i></div>
<div class="row" style="top:1155px;height:42px"><div class="in"></div><div class="v" style="width:52px"><svg width="8" height="16" viewBox="0 0 8 16"><path d="M0 0H7.8V16H4V3.1H0Z" fill="#1c1c1c"/></svg></div><div class="n">I.Concepcion</div><i></i></div>
<div class="row r" style="top:1197px;height:41px"><div class="in"></div><div class="v" style="width:52px"><span>4</span></div><div class="n">Kalusugan</div><i></i></div>
<div class="row" style="top:1238px;height:42px"><div class="in"></div><div class="v" style="width:52px"><svg width="8" height="16" viewBox="0 0 8 16"><path d="M0 0H7.8V16H4V3.1H0Z" fill="#1c1c1c"/></svg></div><div class="n">Kamuning</div><i></i></div>
<div class="row" style="top:1280px;height:42px"><div class="in"></div><div class="v" style="width:52px"><svg width="8" height="16" viewBox="0 0 8 16"><path d="M0 0H7.8V16H4V3.1H0Z" fill="#1c1c1c"/></svg></div><div class="n">Kaunlaran</div><i></i></div>
<div class="row" style="top:1322px;height:41px"><div class="in"></div><div class="v" style="width:52px"><span>2</span></div><div class="n">Kristong Hari</div><i></i></div>
<div class="row r" style="top:1363px;height:42px"><div class="in"></div><div class="v" style="width:52px"><span>2</span></div><div class="n">Paligsahan</div><i></i></div>
</div>
<div class="col" style="left:742px;width:315px">
<div class="row" style="top:364px;height:42px"><div class="in"></div><div class="v" style="width:53px"><svg width="8" height="16" viewBox="0 0 8 16"><path d="M0 0H7.8V16H4V3.1H0Z" fill="#1c1c1c"/></svg></div><div class="n">Pinagkaisahan</div><i></i></div>
<div class="row" style="top:406px;height:41px"><div class="in"></div><div class="v" style="width:53px"><span>2</span></div><div class="n">Pinyahan</div><i></i></div>
<div class="row" style="top:447px;height:42px"><div class="in"></div><div class="v" style="width:53px"><svg width="8" height="16" viewBox="0 0 8 16"><path d="M0 0H7.8V16H4V3.1H0Z" fill="#1c1c1c"/></svg></div><div class="n">Sacred Heart</div><i></i></div>
<div class="row" style="top:489px;height:42px"><div class="in"></div><div class="v" style="width:53px"><span>2</span></div><div class="n">San Isidro Galas</div><i></i></div>
<div class="row" style="top:531px;height:41px"><div class="in"></div><div class="v" style="width:53px"><svg width="8" height="16" viewBox="0 0 8 16"><path d="M0 0H7.8V16H4V3.1H0Z" fill="#1c1c1c"/></svg></div><div class="n">S.Martin de Porres</div><i></i></div>
<div class="row" style="top:572px;height:42px"><div class="in"></div><div class="v" style="width:53px"><svg width="8" height="16" viewBox="0 0 8 16"><path d="M0 0H7.8V16H4V3.1H0Z" fill="#1c1c1c"/></svg></div><div class="n">Sikatuna Village</div><i></i></div>
<div class="row r" style="top:614px;height:41px"><div class="in"></div><div class="v" style="width:53px"><span>4</span></div><div class="n">South Triangle</div><i></i></div>
<div class="row r" style="top:655px;height:42px"><div class="in"></div><div class="v" style="width:53px"><span>2</span></div><div class="n">Tatalon</div><i></i></div>
<div class="row" style="top:697px;height:42px"><div class="in"></div><div class="v" style="width:53px"><svg width="8" height="16" viewBox="0 0 8 16"><path d="M0 0H7.8V16H4V3.1H0Z" fill="#1c1c1c"/></svg></div><div class="n">Teachers Vill. East</div><i></i></div>
<div class="row r" style="top:739px;height:41px"><div class="in"></div><div class="v" style="width:53px"><span>3</span></div><div class="n">Teachers Vill. West</div><i></i></div>
<div class="row" style="top:780px;height:42px"><div class="in"></div><div class="v" style="width:53px"><svg width="8" height="16" viewBox="0 0 8 16"><path d="M0 0H7.8V16H4V3.1H0Z" fill="#1c1c1c"/></svg></div><div class="n">U.P. Campus</div><i></i></div>
<div class="row" style="top:822px;height:42px"><div class="in"></div><div class="v" style="width:53px"><span>2</span></div><div class="n">Valencia</div><i></i></div>
<div class="hd" style="top:864px;height:41px"><span>DISTRICT 5</span><i></i></div>
<div class="row" style="top:905px;height:42px"><div class="in"></div><div class="v" style="width:53px"><span>2</span></div><div class="n">Bagbag</div><i></i></div>
<div class="row" style="top:947px;height:42px"><div class="in"></div><div class="v" style="width:53px"><span>3</span></div><div class="n">Fairview</div><i></i></div>
<div class="row" style="top:989px;height:41px"><div class="in"></div><div class="v" style="width:53px"><svg width="8" height="16" viewBox="0 0 8 16"><path d="M0 0H7.8V16H4V3.1H0Z" fill="#1c1c1c"/></svg></div><div class="n">Kaligayahan</div><i></i></div>
<div class="row" style="top:1030px;height:42px"><div class="in"></div><div class="v" style="width:53px"><svg width="8" height="16" viewBox="0 0 8 16"><path d="M0 0H7.8V16H4V3.1H0Z" fill="#1c1c1c"/></svg></div><div class="n">Pasong Putik</div><i></i></div>
<div class="hd" style="top:1072px;height:42px"><span>DISTRICT 6</span><i></i></div>
<div class="row r" style="top:1114px;height:41px"><div class="in"></div><div class="v" style="width:53px"><span>7</span></div><div class="n">Culiat</div><i></i></div>
<div class="row" style="top:1155px;height:42px"><div class="in"></div><div class="v" style="width:53px"><svg width="8" height="16" viewBox="0 0 8 16"><path d="M0 0H7.8V16H4V3.1H0Z" fill="#1c1c1c"/></svg></div><div class="n">New Era</div><i></i></div>
<div class="row r" style="top:1197px;height:41px"><div class="in"></div><div class="v" style="width:53px"><span>7</span></div><div class="n">Pasong Tamo</div><i></i></div>
<div class="row" style="top:1238px;height:42px"><div class="in"></div><div class="v" style="width:53px"><svg width="8" height="16" viewBox="0 0 8 16"><path d="M0 0H7.8V16H4V3.1H0Z" fill="#1c1c1c"/></svg></div><div class="n">Sauyo</div><i></i></div>
<div class="row" style="top:1280px;height:42px"><div class="in"></div><div class="v" style="width:53px"><svg width="8" height="16" viewBox="0 0 8 16"><path d="M0 0H7.8V16H4V3.1H0Z" fill="#1c1c1c"/></svg></div><div class="n">Talipapa</div><i></i></div>
<div class="row r" style="top:1322px;height:41px"><div class="in"></div><div class="v" style="width:53px"><span>4</span></div><div class="n">Tandang Sora</div><i></i></div>
</div>
<div class="total"></div><div class="ttxt">TOTAL NUMBER OF CASES IN QUEZON CITY: 140</div>
<div class="note"></div><div class="ntxt">*Extreme Enhanced Community Quarantine</div>
<div class="src">SOURCE: Epidemiology and Disease Surveillance, Quezon City Health Department</div>
<div class="foot"></div>
<div class="fol">FOLLOW US</div><div class="fbar"></div>
<svg class="abs" style="left:200px;top:1628px" width="72" height="36" viewBox="200 1628 72 36">
<circle cx="219.2" cy="1645.8" r="13.6" fill="#fff"/>
<path d="M220.6 1654.2v-7.2h2.4l0.4-2.8h-2.8v-1.8c0-0.8 0.25-1.4 1.4-1.4h1.5v-2.5c-0.26-0.03-1.15-0.11-2.2-0.11-2.2 0-3.6 1.3-3.6 3.7v2.1h-2.4v2.8h2.4v7.2z" fill="#2b5c75"/>
<circle cx="252.2" cy="1645.9" r="14.1" fill="#fff"/>
<path d="M259.2 1641.6c-0.5 0.23-1.05 0.38-1.63 0.45 0.59-0.35 1.04-0.91 1.25-1.57-0.55 0.33-1.16 0.56-1.8 0.69-0.52-0.55-1.26-0.9-2.07-0.9-1.57 0-2.84 1.27-2.84 2.84 0 0.22 0.03 0.44 0.07 0.65-2.36-0.12-4.45-1.25-5.85-2.97-0.24 0.42-0.38 0.91-0.38 1.43 0 0.98 0.5 1.85 1.26 2.36-0.47-0.01-0.9-0.14-1.29-0.35v0.04c0 1.37 0.98 2.52 2.28 2.78-0.24 0.07-0.49 0.1-0.75 0.1-0.18 0-0.36-0.02-0.53-0.05 0.36 1.13 1.41 1.95 2.65 1.97-0.97 0.76-2.2 1.21-3.53 1.21-0.23 0-0.46-0.01-0.68-0.04 1.26 0.81 2.75 1.28 4.35 1.28 5.22 0 8.08-4.33 8.08-8.08l-0.01-0.37c0.56-0.4 1.04-0.9 1.42-1.47z" fill="#2b5c75"/>
</svg>
<div class="qc">@QCgov</div>
<svg class="abs" style="left:960px;top:1560px" width="140" height="110" viewBox="960 1560 140 110">
<polygon points="1028.3,1569.2 1086.1,1657.8 969.8,1657.8" fill="#fdfdfd" stroke="#2a4a5c" stroke-width="1.2" stroke-linejoin="round"/>
<polygon points="1028.3,1588.3 1028.3,1646.1 990.1,1646.1" fill="#2a3cb2"/>
<polygon points="1028.3,1588.3 1066.4,1646.1 1028.3,1646.1" fill="#e01a2b"/>
<polygon points="1028.3,1588.3 1066.4,1646.1 990.1,1646.1" fill="none" stroke="#3a2f55" stroke-width="0.8"/>
<rect x="1022.6" y="1596" width="11.4" height="49" fill="#e8e8f2"/>
<rect x="1025.2" y="1596" width="1.6" height="45" fill="#a9aacb"/>
<rect x="1029.8" y="1596" width="1.6" height="45" fill="#c9a9b9"/>
<rect x="1027.3" y="1590" width="2" height="8" fill="#e8e8f2"/>
<rect x="1004" y="1635.3" width="11" height="2.6" fill="#f2f2f8"/>
<rect x="1039" y="1633.5" width="6" height="6.5" fill="#f2f2f8"/>
<rect x="1047.5" y="1635" width="7" height="2.6" fill="#f6c9cd"/>
<polygon points="1028.3,1574.2 1029.5,1577.0 1032.5,1577.2 1030.2,1579.2 1030.9,1582.2 1028.3,1580.6 1025.7,1582.2 1026.4,1579.2 1024.1,1577.2 1027.1,1577.0" fill="#d9c46a"/><polygon points="981.6,1647.0 982.8,1649.8 985.8,1650.0 983.5,1652.0 984.2,1655.0 981.6,1653.4 979.0,1655.0 979.7,1652.0 977.4,1650.0 980.4,1649.8" fill="#d9c46a"/><polygon points="1074.6,1647.0 1075.8,1649.8 1078.8,1650.0 1076.5,1652.0 1077.2,1655.0 1074.6,1653.4 1072.0,1655.0 1072.7,1652.0 1070.4,1650.0 1073.4,1649.8" fill="#d9c46a"/>
<text x="1027.8" y="1655.9" font-family="Liberation Sans, sans-serif" font-weight="700" font-size="8.2" letter-spacing="2.55" text-anchor="middle" fill="#3b2b2b" stroke="#3b2b2b" stroke-width="0.35">PILIPINAS</text>
<text transform="translate(1004.0,1614.4) rotate(-56.6)" x="0" y="2.6" font-family="Liberation Sans, sans-serif" font-weight="700" font-size="7.8" letter-spacing="2.2" text-anchor="middle" fill="#3b2b2b" stroke="#3b2b2b" stroke-width="0.3">LUNGSOD</text>
<text transform="translate(1051.3,1613.2) rotate(56.6)" x="0" y="2.6" font-family="Liberation Sans, sans-serif" font-weight="700" font-size="7.8" letter-spacing="2.9" text-anchor="middle" fill="#3b2b2b" stroke="#3b2b2b" stroke-width="0.3">QUEZON</text>
</svg>
</body></html>
